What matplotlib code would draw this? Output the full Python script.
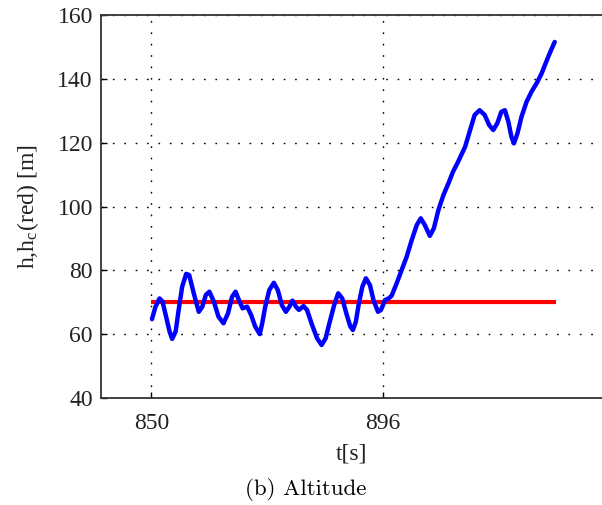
import matplotlib
matplotlib.use("Agg")
import matplotlib.pyplot as plt

# altitude h (blue)
t = [850.1, 850.8, 851.6, 852.2, 852.9, 853.6, 854.1, 854.8, 855.4, 856.1,
     856.9, 857.5, 858.4, 859.4, 860.1, 860.8, 861.5, 862.4, 863.3, 864.3,
     865.2, 866.0, 866.7, 867.5, 868.1, 869.0, 869.8, 870.6, 871.5, 872.0,
     872.6, 873.4, 874.3, 875.1, 875.9, 876.7, 877.4, 878.0, 878.7, 879.3,
     880.2, 880.9, 881.9, 882.9, 883.8, 884.6, 885.5, 886.4, 887.1, 887.9,
     888.8, 889.5, 890.0, 890.6, 891.2, 891.9, 892.6, 893.4, 894.1, 895.0,
     895.6, 896.4, 897.1, 897.7, 898.7, 899.7, 900.7, 901.7, 902.7, 903.5,
     904.3, 905.3, 906.1, 907.0, 908.0, 909.0, 909.9, 910.9, 912.3, 913.3,
     914.2, 915.2, 916.2, 917.1, 917.9, 918.7, 919.5, 920.2, 920.9, 921.5,
     922.0, 922.7, 923.5, 924.5, 925.5, 926.5, 927.5, 928.3, 929.1, 930.1]
h = [64.7, 68.6, 71.2, 70.2, 65.5, 60.8, 58.5, 60.8, 67.6, 74.9,
     78.9, 78.5, 72.8, 67.0, 68.6, 72.3, 73.3, 70.2, 65.5, 63.4,
     66.5, 71.7, 73.3, 70.2, 68.1, 68.6, 66.0, 62.4, 60.0, 63.4,
     68.6, 73.8, 76.1, 73.8, 69.1, 67.0, 68.6, 70.5, 68.6, 67.6,
     68.8, 67.6, 62.9, 58.7, 56.6, 58.7, 64.4, 69.7, 72.8, 71.2,
     66.0, 62.4, 61.3, 63.9, 69.7, 74.9, 77.5, 75.4, 70.7, 67.0,
     67.6, 70.7, 71.2, 72.0, 75.9, 80.1, 84.3, 89.5, 94.2, 96.3,
     94.2, 90.8, 93.2, 98.9, 103.6, 107.3, 110.9, 114.0, 118.7, 124.0,
     128.7, 130.2, 128.7, 125.5, 124.0, 126.1, 129.7, 130.2, 126.6, 121.9,
     119.8, 122.9, 128.1, 132.8, 136.0, 138.6, 141.7, 144.9, 148.0, 151.6]

# commanded altitude h_c (red)
tc = [850, 930.3]
hc = [70, 70]

plt.rcParams['mathtext.fontset'] = 'stix'
serif = 'Liberation Serif'

fig = plt.figure(figsize=(6.02, 5.05), dpi=100)
ax = fig.add_axes([0.168, 0.212, 0.832, 0.758])

ax.plot(tc, hc, color='#ff0000', lw=3.0, solid_capstyle='butt', zorder=3)
ax.plot(t, h, color='#0000ff', lw=3.2, solid_joinstyle='round',
        solid_capstyle='round', zorder=4)

ax.set_xlim(840.0, 939.5)
ax.set_ylim(40, 160)
ax.set_xticks([850, 896])
ax.set_yticks([40, 60, 80, 100, 120, 140, 160])
ax.grid(True, color='black', linestyle=(0, (1.2, 7)), lw=1.0)

for s in ['left', 'bottom', 'top']:
    ax.spines[s].set_linewidth(1.3)
    ax.spines[s].set_color('#333333')
ax.spines['right'].set_visible(False)
ax.tick_params(direction='in', length=4, width=1, top=False, right=False)

for lab in ax.get_xticklabels() + ax.get_yticklabels():
    lab.set_fontfamily(serif)
    lab.set_fontsize(17)
    lab.set_color('#222222')
ax.tick_params(axis='x', pad=11)
ax.tick_params(axis='y', pad=6)

ax.set_ylabel(r'h,h$_{\mathregular{c}}$(red) [m]', fontfamily=serif, fontsize=17,
              color='#222222', labelpad=12)
ax.set_xlabel('t[s]', fontfamily=serif, fontsize=17, color='#222222', labelpad=7)

fig.text(0.507, 0.020, '(b) Altitude', family='cmr10', fontsize=16.5,
         ha='center', va='baseline')

fig.savefig('out.png', dpi=100)
